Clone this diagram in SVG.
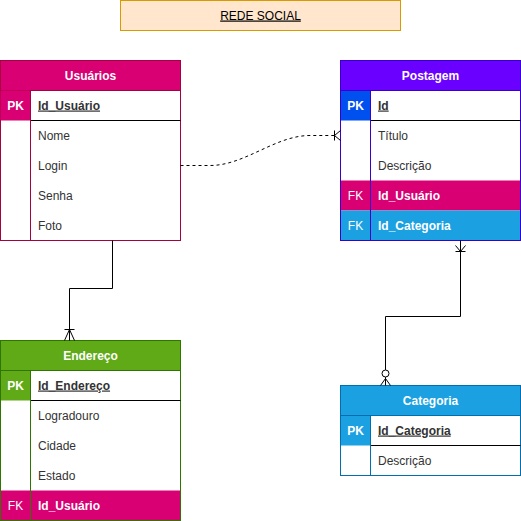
<svg xmlns="http://www.w3.org/2000/svg" width="521" height="521" viewBox="0 0 521 521">
<style>
text{font-family:"Liberation Sans",Arial,Helvetica,sans-serif;font-size:12px}
.h{fill:#fff;font-weight:bold;text-anchor:middle}
.k{fill:#fff;font-weight:bold;text-anchor:middle}
.kf{fill:#fff;text-anchor:middle}
.a{fill:#333}
.pk{fill:#333;font-weight:bold;text-decoration:underline}
.fk{fill:#fff;font-weight:bold}
.ln{fill:none;stroke:#000;stroke-width:1}
.row{stroke:#000;stroke-width:1}
</style>
<rect width="521" height="521" fill="#fff"/>
<g id="title">
<rect x="120.5" y="0.5" width="280" height="30" fill="#ffe6cc" stroke="#d79b00"/>
<text x="260.5" y="19.5" text-anchor="middle" fill="#000" text-decoration="underline">REDE SOCIAL</text>
</g>
<g id="usuarios">
<rect x="0.5" y="60.5" width="180" height="180" fill="#fff" stroke="#a50040"/>
<rect x="0.5" y="60.5" width="180" height="30" fill="#d80073" stroke="#a50040"/>
<rect x="0.5" y="90.5" width="30" height="30" fill="#d80073"/>
<line class="row" x1="30.5" y1="120.5" x2="180.5" y2="120.5"/>
<line x1="30.5" y1="90.5" x2="30.5" y2="240.5" stroke="#a50040"/>
<text class="h" x="90.5" y="79.5">Usuários</text>
<text class="k" x="15.5" y="109.5">PK</text>
<text class="pk" x="38" y="109.5">Id_Usuário</text>
<text class="a" x="38" y="139.5">Nome</text>
<text class="a" x="38" y="169.5">Login</text>
<text class="a" x="38" y="199.5">Senha</text>
<text class="a" x="38" y="229.5">Foto</text>
</g>
<g id="postagem">
<rect x="340.5" y="60.5" width="180" height="180" fill="#fff" stroke="#3700cc"/>
<rect x="340.5" y="180.5" width="180" height="30" fill="#d80073"/>
<rect x="340.5" y="210.5" width="180" height="30" fill="#1ba1e2"/>
<rect x="340.5" y="60.5" width="180" height="180" fill="none" stroke="#3700cc"/>
<rect x="340.5" y="60.5" width="180" height="30" fill="#6a00ff" stroke="#3700cc"/>
<rect x="341" y="91" width="29.5" height="29.5" fill="#0050ef"/>
<line class="row" x1="370.5" y1="120.5" x2="520.5" y2="120.5"/>
<line x1="370.5" y1="90.5" x2="370.5" y2="240.5" stroke="#3700cc"/>
<text class="h" x="430.5" y="79.5">Postagem</text>
<text class="k" x="355.5" y="109.5">PK</text>
<text class="pk" x="378" y="109.5">Id</text>
<text class="a" x="378" y="139.5">Título</text>
<text class="a" x="378" y="169.5">Descrição</text>
<text class="kf" x="355.5" y="199.5">FK</text>
<text class="fk" x="378" y="199.5">Id_Usuário</text>
<text class="kf" x="355.5" y="229.5">FK</text>
<text class="fk" x="378" y="229.5">Id_Categoria</text>
</g>
<g id="endereco">
<rect x="0.5" y="340.5" width="180" height="180" fill="#fff" stroke="#2d7600"/>
<rect x="0.5" y="490.5" width="180" height="30" fill="#d80073"/>
<rect x="0.5" y="340.5" width="180" height="180" fill="none" stroke="#2d7600"/>
<rect x="0.5" y="340.5" width="180" height="30" fill="#60a917" stroke="#2d7600"/>
<rect x="1" y="371" width="29.5" height="29.5" fill="#60a917"/>
<line class="row" x1="30.5" y1="400.5" x2="180.5" y2="400.5"/>
<line x1="30.5" y1="370.5" x2="30.5" y2="520.5" stroke="#2d7600"/>
<text class="h" x="90.5" y="359.5">Endereço</text>
<text class="k" x="15.5" y="389.5">PK</text>
<text class="pk" x="38" y="389.5">Id_Endereço</text>
<text class="a" x="38" y="419.5">Logradouro</text>
<text class="a" x="38" y="449.5">Cidade</text>
<text class="a" x="38" y="479.5">Estado</text>
<text class="kf" x="15.5" y="509.5">FK</text>
<text class="fk" x="38" y="509.5">Id_Usuário</text>
</g>
<g id="categoria">
<rect x="340.5" y="385.5" width="180" height="90" fill="#fff" stroke="#006eaf"/>
<rect x="340.5" y="385.5" width="180" height="30" fill="#1ba1e2" stroke="#006eaf"/>
<rect x="341" y="416" width="29.5" height="29.5" fill="#1ba1e2"/>
<line class="row" x1="370.5" y1="445.5" x2="520.5" y2="445.5"/>
<line x1="370.5" y1="415.5" x2="370.5" y2="475.5" stroke="#006eaf"/>
<text class="h" x="430.5" y="404.5">Categoria</text>
<text class="k" x="355.5" y="434.5">PK</text>
<text class="pk" x="378" y="434.5">Id_Categoria</text>
<text class="a" x="378" y="464.5">Descrição</text>
</g>
<g id="connectors">
<path class="ln" d="M112.5,240.5 V288.5 H69.5 V340.5"/>
<path class="ln" d="M64.5,329.5 H74.5 M69.5,329.5 L64.5,340.5 M69.5,329.5 L74.5,340.5"/>
<path class="ln" stroke-dasharray="3 3" d="M180.5,165.5 L210,165.5 C245,165.5 275,135.5 310,135.5 L334.5,135.5"/>
<path class="ln" d="M334.5,130.5 V140.5 M334.5,135.5 L340.5,130.5 M334.5,135.5 L340.5,140.5"/>
<path class="ln" d="M460.5,240.5 V316.5 H385.5 V370"/>
<path class="ln" d="M455.5,251.5 H465.5 M460.5,251.5 L455.5,245.5 M460.5,251.5 L465.5,245.5"/>
<circle cx="385.5" cy="373.5" r="3.5" fill="#fff" stroke="#000"/>
<path class="ln" d="M385.5,377 V385.5 M385.5,378.5 L380.5,385.5 M385.5,378.5 L390.5,385.5"/>
</g>
</svg>
